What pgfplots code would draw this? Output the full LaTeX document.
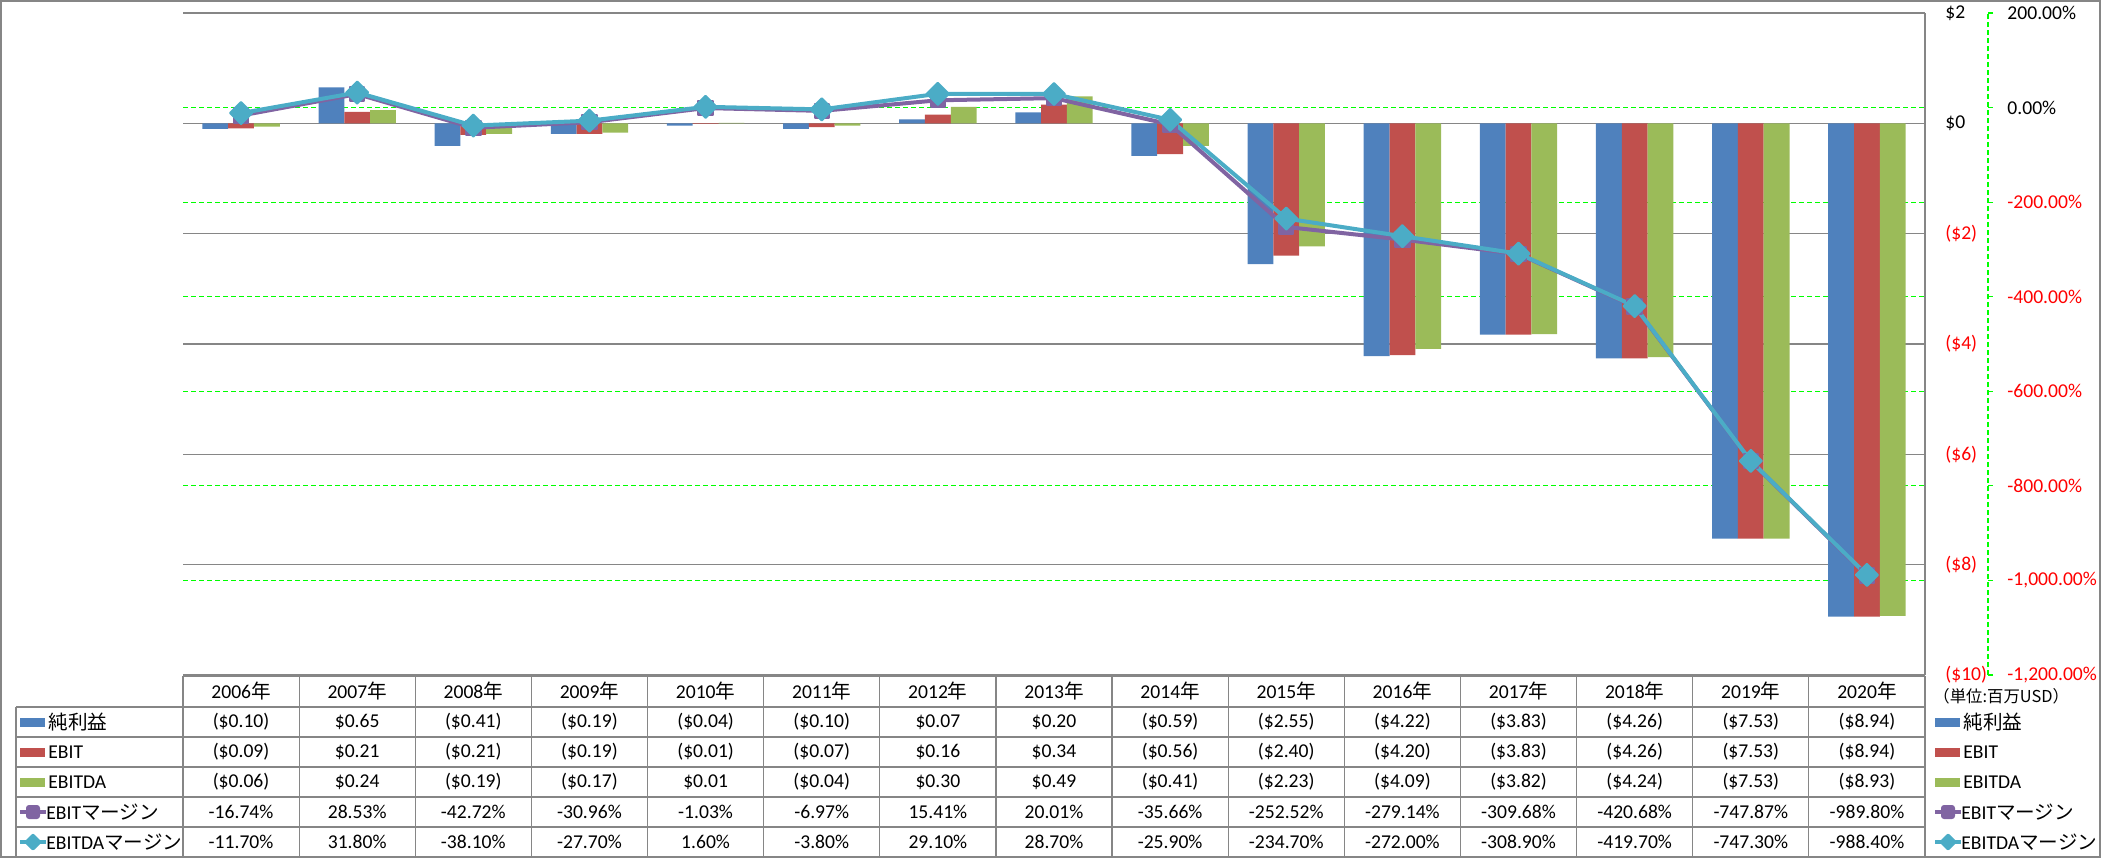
\documentclass[border=0pt]{standalone}
\usepackage{pgfplots}
\usepackage{pgfplotstable}
\pgfplotsset{compat=1.18}
\usepackage{fontspec}
\setmainfont{Carlito}
\newfontfamily\jp{Noto Sans CJK JP}
\definecolor{cBlue}{HTML}{4F81BD}
\definecolor{cRed}{HTML}{C0504D}
\definecolor{cGreen}{HTML}{9BBB59}
\definecolor{cPurple}{HTML}{8064A2}
\definecolor{cAqua}{HTML}{4BACC6}
\definecolor{gridgray}{HTML}{868686}
\definecolor{gridgreen}{HTML}{00FF00}
\definecolor{labred}{HTML}{FF0000}
\newcommand\tf{\fontsize{9.8pt}{11pt}\selectfont}

\pgfplotstableread{
x ni ebit ebitda em edm
0 -0.10 -0.09 -0.06 -16.74 -11.70
1 0.65 0.21 0.24 28.53 31.80
2 -0.41 -0.21 -0.19 -42.72 -38.10
3 -0.19 -0.19 -0.17 -30.96 -27.70
4 -0.04 -0.01 0.01 -1.03 1.60
5 -0.10 -0.07 -0.04 -6.97 -3.80
6 0.07 0.16 0.30 15.41 29.10
7 0.20 0.34 0.49 20.01 28.70
8 -0.59 -0.56 -0.41 -35.66 -25.90
9 -2.55 -2.40 -2.23 -252.52 -234.70
10 -4.22 -4.20 -4.09 -279.14 -272.00
11 -3.83 -3.83 -3.82 -309.68 -308.90
12 -4.26 -4.26 -4.24 -420.68 -419.70
13 -7.53 -7.53 -7.53 -747.87 -747.30
14 -8.94 -8.94 -8.93 -989.80 -988.40
}\data

\newcommand\tablerow[2]{%
  \foreach \v [count=\i from 0] in {#2} {%
    \node[font=\tf, inner sep=0pt] at ({183+116.1333*(\i+0.5)},#1) {\v};
  }}

\begin{document}
\begin{tikzpicture}[x=0.5pt,y=-0.5pt]
\useasboundingbox (0,0) rectangle (2101,858);
\draw[gridgray, line width=0.6pt] (1,1) rectangle (2100,857);

% green grid of secondary axis (behind bars)
\begin{axis}[at={(91.5pt,-337.5pt)}, anchor=south west, scale only axis,
  width=871pt, height=331pt,
  xmin=-0.5, xmax=14.5, ymin=-1200, ymax=200,
  axis line style={draw=none}, tick style={draw=none},
  xtick=\empty, ytick={-1000,-800,...,200}, yticklabels={},
  ymajorgrids, major grid style={gridgreen, line width=0.6pt, dash pattern=on 2.5pt off 1.5pt}]
\end{axis}

% bars
\begin{axis}[at={(91.5pt,-337.5pt)}, anchor=south west, scale only axis,
  width=871pt, height=331pt,
  xmin=-0.5, xmax=14.5, ymin=-10, ymax=2,
  ybar=0pt, bar width=12.9pt,
  axis x line=none, axis y line*=right,
  y axis line style={gridgray, line width=0.6pt, -},
  ytick={-10,-8,...,2}, ymajorgrids,
  major grid style={gridgray, line width=0.6pt},
  major tick length=0pt, ytick style={draw=none},
  yticklabels={{\color{labred}(\$10)},{\color{labred}(\$8)},{\color{labred}(\$6)},{\color{labred}(\$4)},{\color{labred}(\$2)},{\$0},{\$2}},
  yticklabel style={font=\tf, inner sep=0pt, anchor=west, xshift=10pt}]
\addplot[fill=cBlue, draw=none] table[x=x,y=ni]{\data};
\addplot[fill=cRed, draw=none] table[x=x,y=ebit]{\data};
\addplot[fill=cGreen, draw=none] table[x=x,y=ebitda]{\data};
\end{axis}

% margin lines
\begin{axis}[at={(91.5pt,-337.5pt)}, anchor=south west, scale only axis,
  width=871pt, height=331pt,
  xmin=-0.5, xmax=14.5, ymin=-1200, ymax=200, clip=false,
  axis line style={draw=none}, tick style={draw=none},
  xtick=\empty, ytick=\empty]
\addplot[cPurple, line width=2pt, line join=round, mark=square*,
  mark options={mark size=3.6pt, line width=1pt, line join=round, fill=cPurple}]
  table[x=x,y=em]{\data};
\addplot[cAqua, line width=2pt, line join=round, mark=square*,
  mark options={mark size=3.9pt, rotate=45, line width=1pt, line join=round, fill=cAqua}]
  table[x=x,y=edm]{\data};
\end{axis}

% secondary percent axis
\begin{axis}[at={(91.5pt,-337.5pt)}, anchor=south west, scale only axis,
  width=902.5pt, height=331pt,
  xmin=0, xmax=1, ymin=-1200, ymax=200,
  axis x line=none, axis y line*=right,
  y axis line style={gridgreen, line width=0.6pt, dash pattern=on 2.5pt off 1.5pt, -},
  ytick={-1200,-1000,...,200}, tick align=outside, major tick length=2.5pt,
  ytick style={gridgreen, line width=0.6pt},
  yticklabels={{\color{labred}-1{,}200.00\%},{\color{labred}-1{,}000.00\%},{\color{labred}-800.00\%},{\color{labred}-600.00\%},{\color{labred}-400.00\%},{\color{labred}-200.00\%},{0.00\%},{200.00\%}},
  yticklabel style={font=\tf, inner sep=0pt, anchor=west, xshift=7pt}]
\end{axis}

% data table grid
\begin{scope}[gridgray, line width=0.6pt]
\draw (183,676) -- (1925,676);
\foreach \yy in {707,737,767,797,827} \draw (16,\yy) -- (1925,\yy);
\draw (16,707) -- (16,857);
\foreach \i in {0,...,15} \draw ({183+116.1333*\i},676) -- ({183+116.1333*\i},857);
\end{scope}

% table text
\tablerow{691.5}{{2006{\jp 年}},{2007{\jp 年}},{2008{\jp 年}},{2009{\jp 年}},{2010{\jp 年}},{2011{\jp 年}},{2012{\jp 年}},{2013{\jp 年}},{2014{\jp 年}},{2015{\jp 年}},{2016{\jp 年}},{2017{\jp 年}},{2018{\jp 年}},{2019{\jp 年}},{2020{\jp 年}}}
\tablerow{722}{{(\$0.10)},{\$0.65},{(\$0.41)},{(\$0.19)},{(\$0.04)},{(\$0.10)},{\$0.07},{\$0.20},{(\$0.59)},{(\$2.55)},{(\$4.22)},{(\$3.83)},{(\$4.26)},{(\$7.53)},{(\$8.94)}}
\tablerow{752}{{(\$0.09)},{\$0.21},{(\$0.21)},{(\$0.19)},{(\$0.01)},{(\$0.07)},{\$0.16},{\$0.34},{(\$0.56)},{(\$2.40)},{(\$4.20)},{(\$3.83)},{(\$4.26)},{(\$7.53)},{(\$8.94)}}
\tablerow{782}{{(\$0.06)},{\$0.24},{(\$0.19)},{(\$0.17)},{\$0.01},{(\$0.04)},{\$0.30},{\$0.49},{(\$0.41)},{(\$2.23)},{(\$4.09)},{(\$3.82)},{(\$4.24)},{(\$7.53)},{(\$8.93)}}
\tablerow{812}{{-16.74\%},{28.53\%},{-42.72\%},{-30.96\%},{-1.03\%},{-6.97\%},{15.41\%},{20.01\%},{-35.66\%},{-252.52\%},{-279.14\%},{-309.68\%},{-420.68\%},{-747.87\%},{-989.80\%}}
\tablerow{842}{{-11.70\%},{31.80\%},{-38.10\%},{-27.70\%},{1.60\%},{-3.80\%},{29.10\%},{28.70\%},{-25.90\%},{-234.70\%},{-272.00\%},{-308.90\%},{-419.70\%},{-747.30\%},{-988.40\%}}

% legend keys (left in table and right of table)
\foreach \lx in {20,1935} {
  \fill[cBlue] (\lx,717.5) rectangle ({\lx+25},726.5);
  \node[anchor=west, font=\tf\jp, inner sep=0pt] at ({\lx+28},722) {純利益};
  \fill[cRed] (\lx,747.5) rectangle ({\lx+25},756.5);
  \node[anchor=west, font=\tf, inner sep=0pt] at ({\lx+28},752) {EBIT};
  \fill[cGreen] (\lx,777.5) rectangle ({\lx+25},786.5);
  \node[anchor=west, font=\tf, inner sep=0pt] at ({\lx+28},782) {EBITDA};
  \draw[cPurple, line width=2pt] (\lx,812) -- ({\lx+26},812);
  \fill[cPurple, rounded corners=1.5pt] ({\lx+6},805) rectangle ({\lx+20},819);
  \node[anchor=west, font=\tf, inner sep=0pt] at ({\lx+26},812) {EBIT{\jp マージン}};
  \draw[cAqua, line width=2pt] (\lx,842) -- ({\lx+26},842);
  \fill[cAqua, rounded corners=1pt] ({\lx+13},833) -- ({\lx+22},842) -- ({\lx+13},851) -- ({\lx+4},842) -- cycle;
  \node[anchor=west, font=\tf, inner sep=0pt] at ({\lx+26},842) {EBITDA{\jp マージン}};
}
\node[anchor=west, font=\fontsize{8.2pt}{9pt}\selectfont\jp, inner sep=0pt] at (1933,696) {（単位:百万USD）};
\end{tikzpicture}
\end{document}
